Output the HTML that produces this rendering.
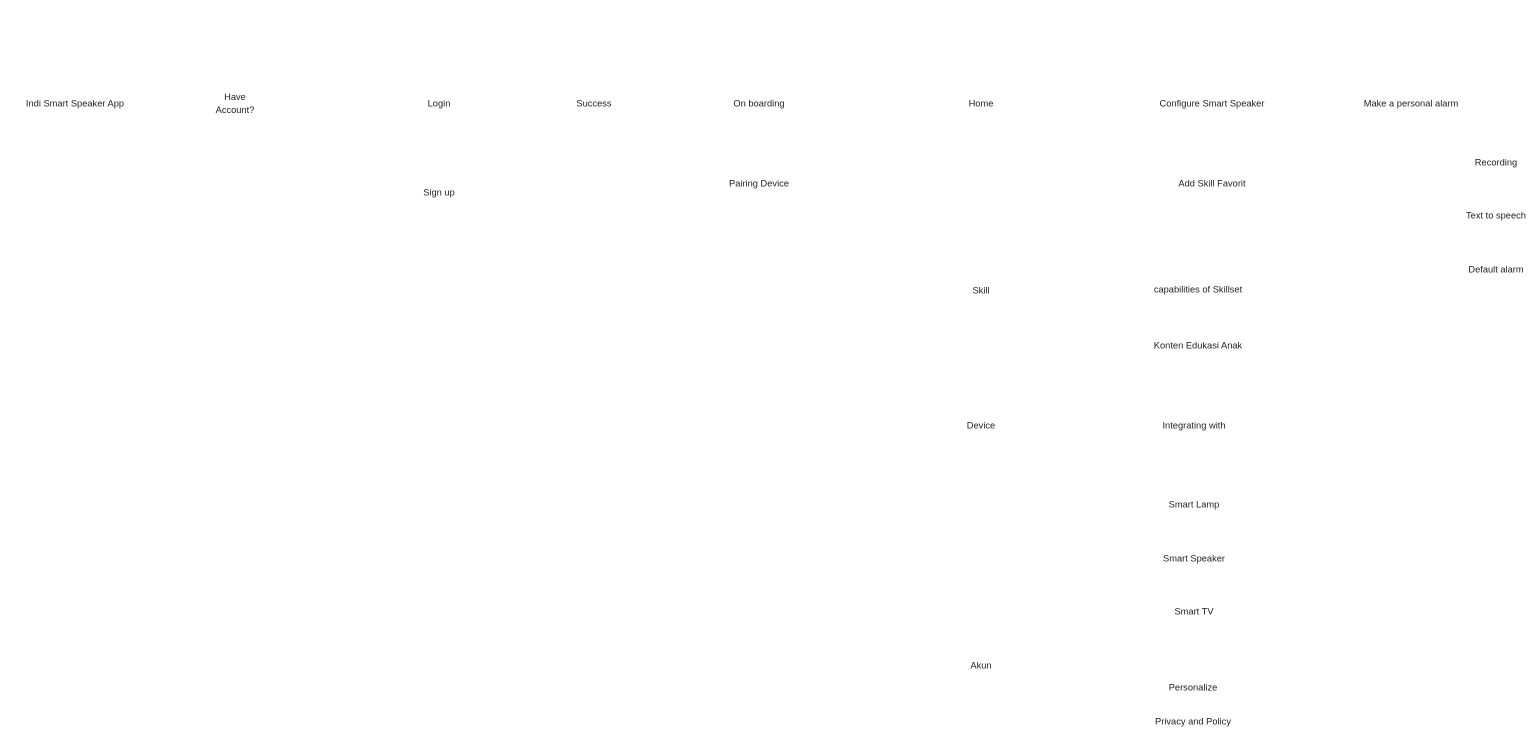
<!DOCTYPE html>
<html><head><meta charset="utf-8"><style>
html,body{margin:0;padding:0;background:#fff;}
body{width:1536px;height:743px;position:relative;overflow:hidden;font-family:"Liberation Sans",sans-serif;font-size:9.3px;color:#1e1e1e;}
.t{position:absolute;transform:translate(-50%,-50%);white-space:nowrap;text-align:center;line-height:13px;margin-top:1px;}
</style></head><body>
<div class="t" style="left:75px;top:103px">Indi Smart Speaker App</div>
<div class="t" style="left:235px;top:103px">Have<br>Account?</div>
<div class="t" style="left:439px;top:103px">Login</div>
<div class="t" style="left:439px;top:192px">Sign up</div>
<div class="t" style="left:594px;top:103px">Success</div>
<div class="t" style="left:759px;top:103px">On boarding</div>
<div class="t" style="left:759px;top:183px">Pairing Device</div>
<div class="t" style="left:981px;top:103px">Home</div>
<div class="t" style="left:981px;top:290px">Skill</div>
<div class="t" style="left:981px;top:425px">Device</div>
<div class="t" style="left:981px;top:665px">Akun</div>
<div class="t" style="left:1212px;top:103px">Configure Smart Speaker</div>
<div class="t" style="left:1212px;top:183px">Add Skill Favorit</div>
<div class="t" style="left:1198px;top:289px">capabilities of Skillset</div>
<div class="t" style="left:1198px;top:345px">Konten Edukasi Anak</div>
<div class="t" style="left:1194px;top:425px">Integrating with</div>
<div class="t" style="left:1194px;top:504px">Smart Lamp</div>
<div class="t" style="left:1194px;top:558px">Smart Speaker</div>
<div class="t" style="left:1194px;top:611px">Smart TV</div>
<div class="t" style="left:1193px;top:687px">Personalize</div>
<div class="t" style="left:1193px;top:721px">Privacy and Policy</div>
<div class="t" style="left:1411px;top:103px">Make a personal alarm</div>
<div class="t" style="left:1496px;top:162px">Recording</div>
<div class="t" style="left:1496px;top:215px">Text to speech</div>
<div class="t" style="left:1496px;top:269px">Default alarm</div>
</body></html>
